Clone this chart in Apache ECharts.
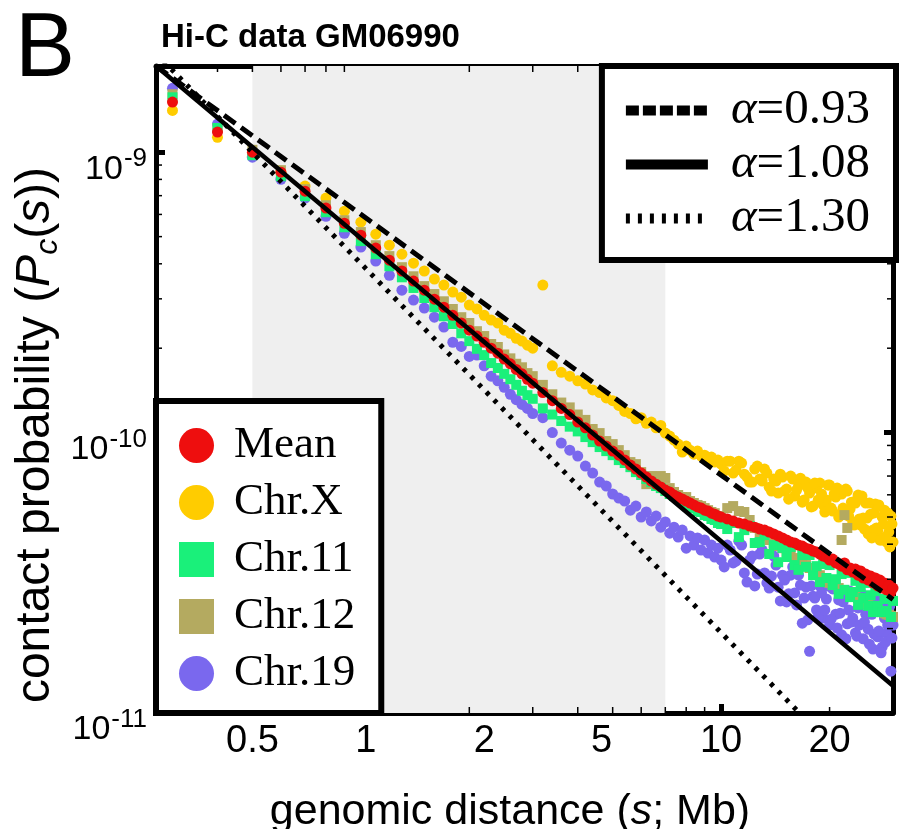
<!DOCTYPE html>
<html>
<head>
<meta charset="utf-8">
<title>Hi-C data GM06990</title>
<script src="https://cdn.jsdelivr.net/npm/echarts@6.0.0/dist/echarts.min.js"></script>
<style>
html, body { margin: 0; padding: 0; background: #ffffff; }
#chart { width: 904px; height: 829px; }
</style>
</head>
<body>
<div id="chart"></div>
<script>
// genomic distance s (Mb)
const sValues = [
0.3,0.4,0.5,0.6,0.7,0.8,0.9,1.0,1.1,1.2,1.3,1.4,1.5,1.6,1.7,1.8,1.9,2.0,2.1,2.2,2.3,2.4,2.5,2.6,2.7,2.8,2.9,3.0,
3.2,3.4,3.6,3.8,4.0,4.2,4.4,4.6,4.8,5.0,5.2,5.4,5.6,5.8,6.0,6.2,6.4,6.6,6.8,7.0,7.2,7.4,7.6,7.8,8.0,8.2,8.4,8.6,8.8,9.0,9.2,9.4,9.6,9.8,10.0,
10.4,10.8,11.2,11.6,12.0,12.4,12.8,13.2,13.6,14.0,14.4,14.8,15.2,15.6,16.0,16.4,16.8,17.2,17.6,18.0,18.4,18.8,19.2,19.6,20.0,
20.4,20.8,21.2,21.6,22.0,22.4,22.8,23.2,23.6,24.0,24.4,24.8,25.2,25.6,26.0,26.4,26.8,27.2,27.6,28.0,28.4,28.8,29.2,29.6,30.0];
// extra distances where the noisy long-range chromosomes are dense
const sValuesB = [
10.2,10.6,11.0,11.4,11.8,12.2,12.6,13.0,13.4,13.8,14.2,14.6,15.0,15.4,15.8,16.2,16.6,17.0,17.4,17.8,18.2,18.6,19.0,19.4,19.8,
20.2,20.6,21.0,21.4,21.8,22.2,22.6,23.0,23.4,23.8,24.2,24.6,25.0,25.4,25.8,26.2,26.6,27.0,27.4,27.8,28.2,28.6,29.0,29.4,29.8];

// contact probability Pc(s)
const meanP = [
1.51e-9,1.18e-9,1.00e-9,8.49e-10,7.26e-10,6.32e-10,5.58e-10,5.06e-10,4.55e-10,4.12e-10,
3.77e-10,3.47e-10,3.22e-10,2.99e-10,2.80e-10,2.62e-10,2.46e-10,2.32e-10,2.21e-10,2.10e-10,
2.00e-10,1.92e-10,1.83e-10,1.76e-10,1.68e-10,1.62e-10,1.55e-10,1.50e-10,
1.39e-10,1.30e-10,1.22e-10,1.16e-10,1.09e-10,1.04e-10,9.80e-11,9.33e-11,8.95e-11,8.59e-11,
8.31e-11,7.98e-11,7.66e-11,7.41e-11,7.17e-11,6.94e-11,6.72e-11,6.55e-11,6.40e-11,6.24e-11,
6.14e-11,5.99e-11,5.89e-11,5.80e-11,5.70e-11,5.61e-11,5.52e-11,5.43e-11,5.38e-11,5.29e-11,
5.25e-11,5.16e-11,5.12e-11,5.04e-11,5.00e-11,
4.92e-11,4.84e-11,4.76e-11,4.72e-11,4.64e-11,4.60e-11,4.53e-11,4.49e-11,4.42e-11,4.35e-11,
4.28e-11,4.21e-11,4.14e-11,4.07e-11,4.04e-11,3.97e-11,3.94e-11,3.87e-11,3.84e-11,3.78e-11,
3.75e-11,3.69e-11,3.63e-11,3.60e-11,3.51e-11,3.54e-11,3.43e-11,3.40e-11,3.34e-11,3.43e-11,
3.24e-11,3.29e-11,3.18e-11,3.26e-11,3.10e-11,3.21e-11,3.03e-11,3.13e-11,2.98e-11,3.08e-11,
2.91e-11,3.03e-11,2.84e-11,2.98e-11,2.79e-11,2.91e-11,2.75e-11,2.86e-11,2.70e-11,2.79e-11];

const chrXP = [
1.41e-9,1.13e-9,9.68e-10,8.49e-10,7.57e-10,6.86e-10,6.16e-10,5.63e-10,5.10e-10,4.66e-10,
4.33e-10,4.02e-10,3.77e-10,3.53e-10,3.36e-10,3.17e-10,3.04e-10,2.85e-10,2.76e-10,2.62e-10,
2.52e-10,2.46e-10,2.32e-10,2.26e-10,2.17e-10,2.12e-10,2.05e-10,2.00e-10,
3.36e-10,1.73e-10,1.64e-10,1.59e-10,1.53e-10,1.49e-10,1.42e-10,1.39e-10,1.33e-10,1.30e-10,
1.25e-10,1.19e-10,1.17e-10,1.12e-10,1.13e-10,1.08e-10,1.09e-10,1.04e-10,1.06e-10,9.96e-11,
9.72e-11,9.40e-11,9.10e-11,8.52e-11,8.95e-11,8.66e-11,8.38e-11,8.59e-11,8.25e-11,8.31e-11,
8.05e-11,8.18e-11,7.85e-11,7.98e-11,7.72e-11,
7.91e-11,7.17e-11,7.91e-11,7.11e-11,6.66e-11,7.41e-11,6.83e-11,7.41e-11,6.39e-11,6.83e-11,
6.09e-11,6.94e-11,6.29e-11,7.00e-11,5.94e-11,6.45e-11,5.65e-11,6.66e-11,6.09e-11,5.47e-11,
6.34e-11,6.61e-11,5.52e-11,5.75e-11,6.50e-11,5.25e-11,5.89e-11,5.00e-11,6.04e-11,5.25e-11,
6.19e-11,5.34e-11,4.80e-11,5.61e-11,5.99e-11,4.68e-11,4.96e-11,5.61e-11,4.35e-11,5.12e-11,
4.49e-11,5.56e-11,4.46e-11,4.14e-11,5.00e-11,5.29e-11,4.07e-11,4.42e-11,5.04e-11,4.07e-11];
const chrXExtraP = [
7.29e-11,7.91e-11,7.35e-11,7.79e-11,6.94e-11,6.66e-11,7.60e-11,6.72e-11,7.17e-11,6.19e-11,
6.72e-11,7.11e-11,6.19e-11,5.79e-11,6.83e-11,6.24e-11,6.88e-11,5.75e-11,6.34e-11,5.43e-11,
6.61e-11,5.75e-11,6.04e-11,5.21e-11,6.50e-11,5.38e-11,6.04e-11,6.34e-11,5.08e-11,5.38e-11,
6.29e-11,5.04e-11,5.65e-11,4.68e-11,5.75e-11,4.92e-11,5.94e-11,4.53e-11,4.96e-11,5.61e-11,
4.21e-11,5.17e-11,4.57e-11,5.52e-11,4.14e-11,4.72e-11,4.24e-11,5.17e-11,3.91e-11,4.72e-11];

const chr11P = [
1.57e-9,1.22e-9,9.76e-10,8.21e-10,6.97e-10,6.11e-10,5.40e-10,4.82e-10,4.33e-10,3.92e-10,
3.58e-10,3.28e-10,3.02e-10,2.80e-10,2.60e-10,2.44e-10,2.26e-10,2.12e-10,1.99e-10,1.89e-10,
1.77e-10,1.70e-10,1.62e-10,1.55e-10,1.48e-10,1.41e-10,1.36e-10,1.32e-10,
1.22e-10,1.16e-10,1.10e-10,1.05e-10,1.01e-10,9.64e-11,9.25e-11,8.88e-11,8.59e-11,8.31e-11,
7.98e-11,7.79e-11,7.53e-11,7.23e-11,7.06e-11,6.83e-11,6.66e-11,6.45e-11,6.34e-11,6.19e-11,
6.04e-11,5.94e-11,5.80e-11,5.70e-11,5.61e-11,5.47e-11,5.38e-11,5.25e-11,5.21e-11,5.08e-11,
5.04e-11,4.92e-11,4.88e-11,4.76e-11,4.72e-11,
4.53e-11,4.76e-11,4.24e-11,4.49e-11,4.64e-11,4.04e-11,4.07e-11,4.31e-11,3.69e-11,3.97e-11,
3.45e-11,3.88e-11,3.60e-11,3.91e-11,3.37e-11,3.24e-11,3.66e-11,3.32e-11,3.66e-11,3.10e-11,
3.34e-11,2.93e-11,3.40e-11,3.03e-11,3.37e-11,2.86e-11,3.00e-11,2.66e-11,3.13e-11,2.75e-11,
3.16e-11,2.59e-11,2.70e-11,2.96e-11,2.43e-11,2.81e-11,2.57e-11,2.91e-11,2.41e-11,2.63e-11,
2.29e-11,2.72e-11,2.41e-11,2.79e-11,2.29e-11,2.55e-11,2.31e-11,2.75e-11,2.20e-11,2.51e-11];

const chr12P = [
1.61e-9,1.22e-9,1.02e-9,8.63e-10,7.38e-10,6.47e-10,5.72e-10,5.19e-10,4.66e-10,4.26e-10,
3.89e-10,3.61e-10,3.33e-10,3.12e-10,2.94e-10,2.76e-10,2.58e-10,2.46e-10,2.30e-10,2.21e-10,
2.07e-10,2.02e-10,1.90e-10,1.84e-10,1.76e-10,1.71e-10,1.63e-10,1.59e-10,
1.48e-10,1.37e-10,1.28e-10,1.23e-10,1.16e-10,1.11e-10,1.03e-10,9.96e-11,9.33e-11,9.10e-11,
8.66e-11,8.31e-11,7.85e-11,7.72e-11,7.23e-11,6.55e-11,7.00e-11,6.72e-11,7.00e-11,6.89e-11,
6.34e-11,6.14e-11,5.99e-11,5.89e-11,5.89e-11,5.70e-11,5.61e-11,5.52e-11,5.47e-11,5.38e-11,
5.29e-11,5.21e-11,5.16e-11,5.04e-11,5.00e-11,
5.38e-11,5.47e-11,5.25e-11,5.21e-11,4.88e-11,4.57e-11,4.38e-11,4.28e-11,4.14e-11,4.04e-11,
3.94e-11,3.87e-11,3.75e-11,3.69e-11,3.57e-11,3.51e-11,3.43e-11,3.37e-11,3.29e-11,3.24e-11,
3.16e-11,3.10e-11,3.03e-11,2.98e-11,2.91e-11,2.86e-11,2.98e-11,2.79e-11,4.14e-11,5.08e-11,
4.57e-11,2.70e-11,2.66e-11,2.61e-11,2.57e-11,2.53e-11,2.51e-11,2.47e-11,2.45e-11,2.41e-11,
2.39e-11,2.35e-11,2.33e-11,2.31e-11,2.29e-11,2.27e-11,2.25e-11,2.24e-11,2.22e-11,2.20e-11];

const chr19P = [
1.69e-9,1.26e-9,9.60e-10,8.01e-10,6.86e-10,5.91e-10,5.14e-10,4.59e-10,4.09e-10,3.64e-10,
3.22e-10,2.97e-10,2.78e-10,2.58e-10,2.38e-10,2.10e-10,2.03e-10,1.87e-10,1.89e-10,1.73e-10,
1.59e-10,1.53e-10,1.45e-10,1.37e-10,1.31e-10,1.26e-10,1.22e-10,1.17e-10,
1.13e-10,1.00e-10,9.18e-11,8.66e-11,8.25e-11,7.60e-11,7.17e-11,6.66e-11,6.45e-11,6.04e-11,
5.84e-11,5.70e-11,5.29e-11,5.47e-11,5.00e-11,5.21e-11,4.84e-11,5.04e-11,4.60e-11,4.80e-11,
4.38e-11,4.60e-11,4.24e-11,4.49e-11,3.87e-11,4.28e-11,3.97e-11,4.21e-11,3.81e-11,4.14e-11,
3.72e-11,3.97e-11,3.60e-11,3.87e-11,3.51e-11,
3.97e-11,3.43e-11,4.10e-11,3.16e-11,3.51e-11,2.84e-11,3.69e-11,3.16e-11,2.79e-11,3.63e-11,
2.81e-11,3.10e-11,2.49e-11,3.10e-11,2.68e-11,3.10e-11,2.09e-11,2.81e-11,1.66e-11,2.61e-11,
2.33e-11,2.84e-11,2.18e-11,2.55e-11,2.06e-11,2.77e-11,2.25e-11,2.53e-11,1.90e-11,2.57e-11,
2.08e-11,2.72e-11,2.18e-11,1.93e-11,2.37e-11,2.70e-11,1.84e-11,2.25e-11,1.99e-11,2.53e-11,
1.69e-11,2.35e-11,1.87e-11,2.43e-11,1.72e-11,2.18e-11,1.93e-11,2.33e-11,1.41e-11,2.06e-11];
const chr19ExtraP = [
3.32e-11,3.81e-11,3.48e-11,3.97e-11,2.93e-11,3.63e-11,3.13e-11,3.81e-11,2.91e-11,3.08e-11,
3.37e-11,2.51e-11,2.98e-11,2.66e-11,3.32e-11,2.43e-11,2.86e-11,2.57e-11,2.15e-11,2.84e-11,
2.57e-11,2.20e-11,2.68e-11,2.33e-11,2.84e-11,2.16e-11,2.93e-11,2.01e-11,2.27e-11,2.49e-11,
1.84e-11,2.33e-11,2.11e-11,2.63e-11,1.88e-11,2.06e-11,2.45e-11,2.11e-11,2.51e-11,1.76e-11,
2.25e-11,1.91e-11,2.53e-11,1.96e-11,1.64e-11,2.33e-11,1.79e-11,2.06e-11,2.41e-11,1.85e-11];

// power-law fit lines, endpoints [s, Pc]
const fit093 = [[0.27, 2.03e-9], [30, 2.54e-11]];
const fit108 = [[0.27, 2.03e-9], [30, 1.25e-11]];
const fit130 = [[0.27, 2.25e-9], [16.5, 1.0e-11]];

const shadedRange = [0.5, 7];
const xRange = [0.27, 30];
const yRange = [1e-11, 2.03e-9];
const xTickLabels = [0.5, 1, 2, 5, 10, 20];
const xMajorTicks = [1, 10];
const xMinorTicks = [0.3, 0.4, 0.5, 0.6, 0.7, 0.8, 0.9, 2, 3, 4, 5, 6, 7, 8, 9, 20];
const yTickLabels = [1e-11, 1e-10, 1e-9];
const yMajorTicks = [1e-10, 1e-9];
const yMinorTicks = [2e-11, 3e-11, 4e-11, 5e-11, 6e-11, 7e-11, 8e-11, 9e-11,
                     2e-10, 3e-10, 4e-10, 5e-10, 6e-10, 7e-10, 8e-10, 9e-10];

const pairs = (xs, arr) => xs.map((s, i) => [s, arr[i]]);

const chart = echarts.init(document.getElementById('chart'), null, { renderer: 'canvas' });

const SANS = "'Liberation Sans', Arial, Helvetica, sans-serif";
const SERIF = "'Liberation Serif', 'Times New Roman', serif";

const axisLineStyle = { show: true, lineStyle: { color: '#000', width: 5 } };
const majorTick = (vals) => ({ show: true, inside: true, length: 9, customValues: vals,
  lineStyle: { color: '#000', width: 5 } });

// label nudges as in the original figure
const xLabelStyleKey = { '1': 'r1', '2': 'r2', '5': 'l5' };
const xLabelFmt = v => {
  const t = String(+(+v).toPrecision(3));
  const k = xLabelStyleKey[t];
  return k ? '{' + k + '|' + t + '}' : '{n|' + t + '}';
};
const xLabelBase = { fontFamily: SANS, fontSize: 38, color: '#000' };
const yLabelFmt = v => '{b|10}{s|' + Math.round(Math.log10(v)) + '}';

const option = {
  animation: false,
  backgroundColor: '#ffffff',
  title: [
    { text: 'B', left: 15, top: 6, padding: 0,
      textStyle: { fontFamily: SANS, fontSize: 90, fontWeight: 'normal', color: '#000' } },
    { text: 'Hi-C data GM06990', left: 161, top: 21, padding: 0,
      textStyle: { fontFamily: SANS, fontSize: 33, fontWeight: 'bold', color: '#000' } }
  ],
  graphic: [
    { type: 'text', x: 36, y: 435, rotation: Math.PI / 2, silent: true, z: 20,
      style: { text: '{t|contact probability (}{i|P}{sub|c}{t|(}{i|s}{t|))}',
        align: 'center', verticalAlign: 'middle', fill: '#000',
        rich: {
          t: { fontFamily: SANS, fontSize: 48, fill: '#000' },
          i: { fontFamily: SANS, fontSize: 48, fontStyle: 'italic', fill: '#000' },
          sub: { fontFamily: SANS, fontSize: 32, fontStyle: 'italic', fill: '#000', padding: [24, 0, 0, 0] }
        } } },
    { type: 'text', x: 510, y: 812, silent: true, z: 20,
      style: { text: '{t|genomic distance (}{i|s}{t|; Mb)}',
        align: 'center', verticalAlign: 'middle', fill: '#000',
        rich: {
          t: { fontFamily: SANS, fontSize: 43, fill: '#000' },
          i: { fontFamily: SANS, fontSize: 43, fontStyle: 'italic', fill: '#000' }
        } } }
  ],
  grid: { left: 156, right: 11, top: 66, bottom: 116, containLabel: false, outerBoundsMode: 'none' },
  xAxis: [{
    type: 'log', logBase: 10, min: xRange[0], max: xRange[1], position: 'bottom',
    axisLine: axisLineStyle,
    axisTick: majorTick(xMajorTicks),
    axisLabel: { customValues: xTickLabels, formatter: xLabelFmt, margin: 10, ...xLabelBase,
      rich: {
        n: { ...xLabelBase },
        r1: { ...xLabelBase, padding: [0, 0, 0, 10] },
        r2: { ...xLabelBase, padding: [0, 0, 0, 30] },
        l5: { ...xLabelBase, padding: [0, 22, 0, 0] }
      } },
    splitLine: { show: false }
  }, {
    type: 'log', logBase: 10, min: xRange[0], max: xRange[1], position: 'top',
    axisLine: axisLineStyle, axisTick: majorTick(xMajorTicks),
    axisLabel: { show: false }, splitLine: { show: false }
  }],
  yAxis: [{
    type: 'log', logBase: 10, min: yRange[0], max: yRange[1], position: 'left',
    axisLine: axisLineStyle, axisTick: majorTick(yMajorTicks),
    axisLabel: { customValues: yTickLabels, formatter: yLabelFmt, margin: 9, padding: [34, 0, 0, 0],
      rich: {
        b: { fontFamily: SANS, fontSize: 34, color: '#000' },
        s: { fontFamily: SANS, fontSize: 26, color: '#000', padding: [0, 0, 20, 1] }
      } },
    splitLine: { show: false }
  }, {
    type: 'log', logBase: 10, min: yRange[0], max: yRange[1], position: 'right',
    axisLine: axisLineStyle, axisTick: majorTick(yMajorTicks),
    axisLabel: { show: false }, splitLine: { show: false }
  }],
  legend: [{
    data: [
      { name: 'Mean', icon: 'circle' },
      { name: 'Chr.X', icon: 'circle' },
      { name: 'Chr.11', icon: 'rect' },
      { name: 'Chr.12', icon: 'rect' },
      { name: 'Chr.19', icon: 'circle' }
    ],
    orient: 'vertical', left: 156, top: 401,
    itemWidth: 35, itemHeight: 35, itemGap: 12,
    padding: [22, 26, 17, 23],
    backgroundColor: '#ffffff', borderColor: '#000', borderWidth: 6, borderRadius: 0,
    formatter: name => '{n|' + name + '}',
    textStyle: { fontFamily: SERIF, fontSize: 45, color: '#000',
      rich: { n: { fontFamily: SERIF, fontSize: 45, color: '#000', padding: [0, 0, 0, 15] } } },
    selectedMode: false, z: 10
  }, {
    data: [
      { name: 'α=0.93', itemStyle: { opacity: 0 }, lineStyle: { width: 10, type: [13, 4] } },
      { name: 'α=1.08', itemStyle: { opacity: 0 }, lineStyle: { width: 10, type: 'solid' } },
      { name: 'α=1.30', itemStyle: { opacity: 0 }, lineStyle: { width: 10, type: [4, 8] } }
    ],
    orient: 'vertical', right: 8, top: 66,
    itemWidth: 82, itemHeight: 35, itemGap: 5,
    padding: [20, 26, 17, 19],
    backgroundColor: '#ffffff', borderColor: '#000', borderWidth: 6, borderRadius: 0,
    formatter: name => '{a|α}{t|' + name.slice(1) + '}',
    textStyle: { fontFamily: SERIF, fontSize: 49, color: '#000',
      rich: {
        a: { fontFamily: SERIF, fontSize: 49, fontStyle: 'italic', color: '#000', padding: [0, 0, 0, 18] },
        t: { fontFamily: SERIF, fontSize: 49, color: '#000' }
      } },
    selectedMode: false, z: 10
  }],
  series: [
    { name: 'shade', type: 'line', data: [], silent: true, z: 0,
      markArea: { silent: true, itemStyle: { color: '#efefef' },
        data: [[{ xAxis: shadedRange[0] }, { xAxis: shadedRange[1] }]] } },
    { name: 'Chr.X', type: 'scatter', data: pairs(sValues, chrXP), symbol: 'circle', symbolSize: 11,
      itemStyle: { color: '#ffcc00', opacity: 1 }, z: 2, silent: true },
    { name: 'Chr.X', type: 'scatter', data: pairs(sValuesB, chrXExtraP), symbol: 'circle', symbolSize: 11,
      itemStyle: { color: '#ffcc00', opacity: 1 }, z: 2, silent: true },
    { name: 'Chr.19', type: 'scatter', data: pairs(sValues, chr19P), symbol: 'circle', symbolSize: 11,
      itemStyle: { color: '#7a68ee', opacity: 1 }, z: 2, silent: true },
    { name: 'Chr.19', type: 'scatter', data: pairs(sValuesB, chr19ExtraP), symbol: 'circle', symbolSize: 11,
      itemStyle: { color: '#7a68ee', opacity: 1 }, z: 2, silent: true },
    { name: 'Chr.12', type: 'scatter', data: pairs(sValues, chr12P), symbol: 'rect', symbolSize: 10,
      itemStyle: { color: '#b4aa60', opacity: 1 }, z: 2, silent: true },
    { name: 'Chr.11', type: 'scatter', data: pairs(sValues, chr11P), symbol: 'rect', symbolSize: 10,
      itemStyle: { color: '#1af07a', opacity: 1 }, z: 2, silent: true },
    { name: 'Mean', type: 'scatter', data: pairs(sValues, meanP), symbol: 'circle', symbolSize: 11,
      itemStyle: { color: '#ee0e0e', opacity: 1 }, z: 2, silent: true },
    { name: 'α=0.93', type: 'line', data: fit093, symbol: 'none', clip: true, z: 3, silent: true,
      lineStyle: { color: '#000', width: 5, type: [14, 7] }, itemStyle: { color: '#000' } },
    { name: 'α=1.08', type: 'line', data: fit108, symbol: 'none', clip: true, z: 3, silent: true,
      lineStyle: { color: '#000', width: 4.5, type: 'solid' }, itemStyle: { color: '#000' } },
    { name: 'α=1.30', type: 'line', data: fit130, symbol: 'none', clip: true, z: 3, silent: true,
      lineStyle: { color: '#000', width: 5, type: [4, 7] }, itemStyle: { color: '#000' } },
    { name: 'xMinor', type: 'custom', silent: true, z: 5,
      data: xMinorTicks.map(v => [v, yRange[0]]),
      renderItem: (params, api) => {
        const x = api.coord([api.value(0), api.value(1)])[0];
        const cs = params.coordSys;
        return { type: 'group', children: [
          { type: 'line', shape: { x1: x, y1: cs.y + cs.height, x2: x, y2: cs.y + cs.height - 6 }, style: { stroke: '#000', lineWidth: 1.5 } },
          { type: 'line', shape: { x1: x, y1: cs.y, x2: x, y2: cs.y + 6 }, style: { stroke: '#000', lineWidth: 1.5 } }
        ] };
      } },
    { name: 'yMinor', type: 'custom', silent: true, z: 5,
      data: yMinorTicks.map(v => [xRange[0], v]),
      renderItem: (params, api) => {
        const y = api.coord([api.value(0), api.value(1)])[1];
        const cs = params.coordSys;
        return { type: 'group', children: [
          { type: 'line', shape: { x1: cs.x, y1: y, x2: cs.x + 6, y2: y }, style: { stroke: '#000', lineWidth: 1.5 } },
          { type: 'line', shape: { x1: cs.x + cs.width, y1: y, x2: cs.x + cs.width - 6, y2: y }, style: { stroke: '#000', lineWidth: 1.5 } }
        ] };
      } }
  ]
};
chart.setOption(option);
</script>
</body>
</html>
